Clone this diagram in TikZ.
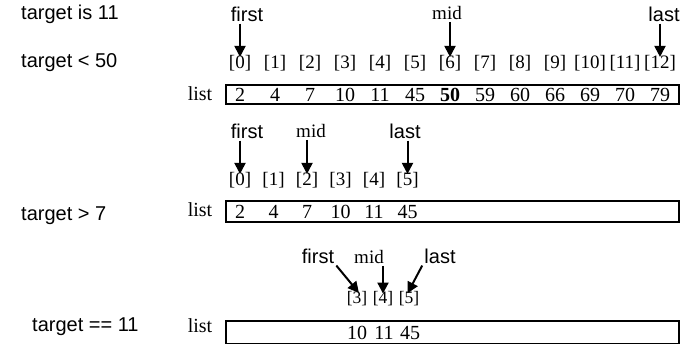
\documentclass[tikz,border=0pt]{standalone}
\usepackage{fontspec}
\setmainfont{Liberation Serif}
\newfontfamily\arialfont{Liberation Sans}
\usetikzlibrary{arrows.meta}

\begin{document}
\begin{tikzpicture}[x=1pt, y=-1pt]
        \tikzset{
            tag/.style={font=\arialfont\fontsize{20}{22}\selectfont, anchor=west, inner sep=1pt},
            ptr/.style={font=\arialfont\fontsize{20}{22}\selectfont, inner sep=2pt},
            ptrmid/.style={font=\fontsize{19}{21}\selectfont, inner sep=2pt},
            idx/.style={font=\fontsize{19}{21}\selectfont, inner sep=1pt},
            smallidx/.style={font=\fontsize{17.5}{19}\selectfont, inner sep=1pt},
            val/.style={font=\fontsize{20}{22}\selectfont, inner sep=1pt},
            listbox/.style={draw, line width=2pt},
            pointer/.style={-{Triangle[length=11pt, width=11pt]}, line width=2pt, shorten >=-3pt}
        }
        \useasboundingbox (0,0) rectangle (681,344);

        % Row 1 - whole list
        \node[tag] (t1a) at (20,14) {target is 11};
        \node[tag] (t1b) at (20,63) {target < 50};
        \node[ptr] (first1) at (247,14) {first};
        \node[ptrmid] (mid1) at (447,13) {mid};
        \node[ptr] (last1) at (664,14) {last};
        \node[idx] (r1i0) at (240,63) {[0]};
        \node[idx] (r1i1) at (275,63) {[1]};
        \node[idx] (r1i2) at (310,63) {[2]};
        \node[idx] (r1i3) at (345,63) {[3]};
        \node[idx] (r1i4) at (380,63) {[4]};
        \node[idx] (r1i5) at (415,63) {[5]};
        \node[idx] (r1i6) at (450,63) {[6]};
        \node[idx] (r1i7) at (485,63) {[7]};
        \node[idx] (r1i8) at (520,63) {[8]};
        \node[idx] (r1i9) at (555,63) {[9]};
        \node[idx] (r1i10) at (590,63) {[10]};
        \node[idx] (r1i11) at (625,63) {[11]};
        \node[idx] (r1i12) at (660,63) {[12]};
        \node[val] (list1) at (200,94) {list};
        \draw[listbox] (226,85) rectangle (679,104);
        \node[val] at (240,95) {2};
        \node[val] at (275,95) {4};
        \node[val] at (310,95) {7};
        \node[val] at (345,95) {10};
        \node[val] at (380,95) {11};
        \node[val] at (415,95) {45};
        \node[val] at (450,95) {\textbf{50}};
        \node[val] at (485,95) {59};
        \node[val] at (520,95) {60};
        \node[val] at (555,95) {66};
        \node[val] at (590,95) {69};
        \node[val] at (625,95) {70};
        \node[val] at (660,95) {79};
        \draw[pointer] (first1.south -| r1i0) -- (r1i0.north);
        \draw[pointer] (mid1.south -| r1i6) -- (r1i6.north);
        \draw[pointer] (last1.south -| r1i12) -- (r1i12.north);

        % Row 2 - lower half
        \node[ptr] (first2) at (247,131) {first};
        \node[ptrmid] (mid2) at (311,131) {mid};
        \node[ptr] (last2) at (405,131) {last};
        \node[idx] (r2i0) at (240,180) {[0]};
        \node[idx] (r2i1) at (273.5,180) {[1]};
        \node[idx] (r2i2) at (307,180) {[2]};
        \node[idx] (r2i3) at (340.5,180) {[3]};
        \node[idx] (r2i4) at (374,180) {[4]};
        \node[idx] (r2i5) at (407.5,180) {[5]};
        \node[tag] (t2) at (20,216) {target > 7};
        \node[val] (list2) at (200,210) {list};
        \draw[listbox] (226,201) rectangle (679,222);
        \node[val] at (240,212) {2};
        \node[val] at (273.5,212) {4};
        \node[val] at (307,212) {7};
        \node[val] at (340.5,212) {10};
        \node[val] at (374,212) {11};
        \node[val] at (407.5,212) {45};
        \draw[pointer] (first2.south -| r2i0) -- (r2i0.north);
        \draw[pointer] (mid2.south -| r2i2) -- (r2i2.north);
        \draw[pointer] (last2.south -| r2i5) -- (r2i5.north);

        % Row 3 - found
        \node[ptr] (first3) at (318,256) {first};
        \node[ptrmid] (mid3) at (369,257) {mid};
        \node[ptr] (last3) at (440,256) {last};
        \node[smallidx] (r3i3) at (357,299) {[3]};
        \node[smallidx] (r3i4) at (383,299) {[4]};
        \node[smallidx] (r3i5) at (409,299) {[5]};
        \node[tag] (t3) at (31,327) {target == 11};
        \node[val] (list3) at (200,326) {list};
        \draw[listbox] (226,321) rectangle (679,344);
        \node[val] at (357,333) {10};
        \node[val] at (384,333) {11};
        \node[val] at (410,333) {45};
        \draw[pointer] (first3.south east) -- (r3i3.north);
        \draw[pointer] (mid3.south -| r3i4) -- (r3i4.north);
        \draw[pointer] (last3.south west) -- (r3i5.north);
\end{tikzpicture}
\end{document}
